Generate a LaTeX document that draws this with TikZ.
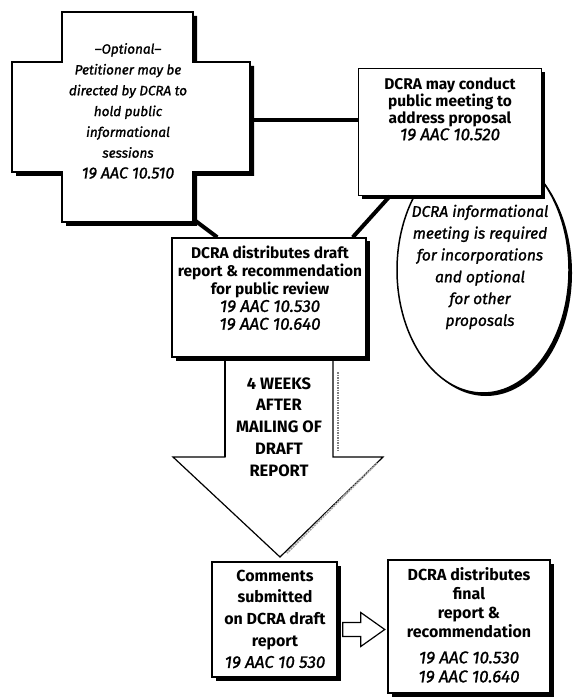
\documentclass[tikz,border=0pt]{standalone}
\usepackage{fontspec}
\setmainfont{Fira Sans}[ItalicFeatures={FakeBold=1.3}]
\usetikzlibrary{calc,shapes.geometric,shadows}
\begin{document}
\begin{tikzpicture}[x=1pt,y=-1pt,
  box/.style={rectangle,draw=black,line width=1.5pt,fill=white,inner sep=0pt,
     drop shadow={shadow xshift=3.5pt,shadow yshift=-3.5pt,fill=black,opacity=1}},
  oval/.style={ellipse,draw=black,line width=1.5pt,fill=white,inner sep=0pt,
     drop shadow={shadow xshift=3pt,shadow yshift=-3pt,fill=black,opacity=1}},
  conn/.style={line width=4pt},
  txt/.style={align=center,inner sep=0pt},
  it/.style={txt,font=\itshape\fontsize{15.5}{21.8}\selectfont},
]
\useasboundingbox (0,0) rectangle (574,700);
\fill[white] (0,0) rectangle (574,700);

% ellipse (behind the top box)
\node[oval, minimum width=172pt, minimum height=246pt] (ell) at (483,270) {};
\node[it] (ellT) at (480,267) {DCRA informational\\meeting is required\\for incorporations\\and optional\\for other\\proposals};

% top right box
\node[box, minimum width=183pt, minimum height=127pt] (top) at (450,132) {};
\node[txt, font=\fontsize{15.5}{17}\selectfont] (topT) at (450,109)
  {\textbf{DCRA may conduct}\\\textbf{public meeting to}\\\textbf{address proposal}\\{\itshape\fontsize{17}{17}\selectfont 19 AAC 10.520}};

% cross
\fill[black] (66,16) -- (197,16) -- (197,66) -- (254,66) -- (254,176) -- (197,176) -- (197,226) -- (66,226) -- (66,176) -- (16,176) -- (16,66) -- (66,66) -- cycle;
\draw[line width=1.5pt, fill=white] (62,12) -- (193,12) -- (193,62) -- (250,62) -- (250,172) -- (193,172) -- (193,222) -- (62,222) -- (62,172) -- (12,172) -- (12,62) -- (62,62) -- cycle;
\node[txt, font=\itshape\fontsize{13.5}{20.8}\selectfont] (crossT) at (128,111)
  {--Optional--\\Petitioner may be\\directed by DCRA to\\hold public\\informational\\sessions\\{\fontsize{16}{20.8}\selectfont 19 AAC 10.510}};
\coordinate (cR) at (250,120);
\coordinate (cB) at (193,219);

% big arrow
\draw[line width=1.2pt, fill=white] (225,359) -- (225,457) -- (173,457) -- (280,557) -- (383,457) -- (333,457) -- (333,359);
\draw[line width=2.6pt] (225,359) -- (225,457);
\draw[gray, line width=1.5pt, densely dotted] (338,372) -- (338,452);
\draw[gray!70, line width=2pt, densely dotted] (377,463) -- (287,553);
\node[txt, font=\bfseries\fontsize{16.5}{21.8}\selectfont] (arrT) at (279,427)
  {4 WEEKS\\AFTER\\MAILING OF\\DRAFT\\REPORT};

% middle box
\node[box, minimum width=194pt, minimum height=119pt] (mid) at (269,297.5) {};
\node[txt, font=\fontsize{15.5}{17.8}\selectfont] (midT) at (270,288)
  {\textbf{DCRA distributes draft}\\\textbf{report \& recommendation}\\\textbf{for public review}\\{\itshape\fontsize{17}{17.8}\selectfont 19 AAC 10.530}\\{\itshape\fontsize{17}{17.8}\selectfont 19 AAC 10.640}};

% connectors
\draw[conn] (cR) -- (cR -| top.west);
\draw[conn] (cB) -- ([xshift=46pt]mid.north west);
\draw[conn] ([xshift=32pt]top.south west) -- ([xshift=-14pt]mid.north east);

% comments box
\node[box, minimum width=125pt, minimum height=115pt] (com) at (274.5,619.5) {};
\node[txt, font=\fontsize{16}{21.7}\selectfont] (comT) at (275,619)
  {\textbf{Comments}\\\textbf{submitted}\\\textbf{on DCRA draft}\\\textbf{report}\\{\itshape\fontsize{17}{21.7}\selectfont 19 AAC 10 530}};

% final box
\node[box, minimum width=162pt, minimum height=133pt] (fin) at (469,626.5) {};
\node[txt, font=\fontsize{16}{19}\selectfont] (finT) at (469,625)
  {\textbf{DCRA distributes}\\\textbf{final}\\\textbf{report \&}\\\textbf{recommendation}\\[7pt]{\itshape\fontsize{17}{19}\selectfont 19 AAC 10.530}\\{\itshape\fontsize{17}{19}\selectfont 19 AAC 10.640}};

% hollow arrow
\coordinate (h0) at ($(com.east)+(5,10)$);
\draw[line width=1.2pt, fill=white] (h0) ++(0,-7) -- ++(18,0) -- ++(0,-10) -- ++(24,17) -- ++(-24,17) -- ++(0,-10) -- ++(-18,0) -- cycle;
\end{tikzpicture}
\end{document}
